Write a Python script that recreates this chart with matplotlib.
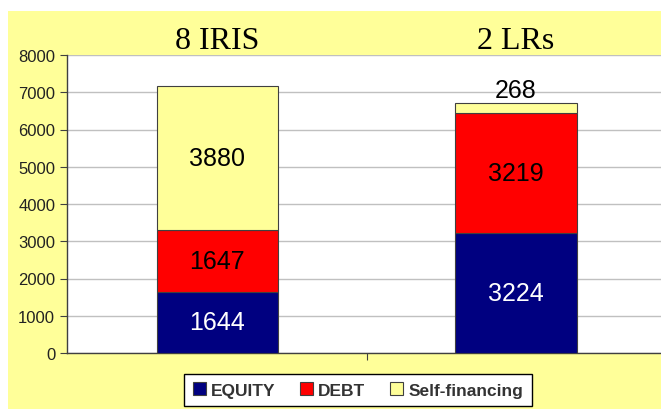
import numpy as np
import matplotlib
matplotlib.use("Agg")
import matplotlib.pyplot as plt
from matplotlib.patches import Rectangle

plt.rcParams["font.family"] = ["Liberation Sans", "DejaVu Sans"]

# ---------- Datos ----------
grupos = ["8 IRIS", "2 LRs"]
series = ["EQUITY", "DEBT", "Self-financing"]
equity = [1644, 3224]
debt = [1647, 3219]
autofin = [3880, 268]
colores = ["#000080", "#FF0000", "#FFFF99"]
color_texto = ["white", "black", "black"]

fig = plt.figure(figsize=(6.61, 4.10), dpi=100)
fig.patch.set_facecolor("white")
# fondo amarillo del área del gráfico
fig.patches.append(Rectangle((8 / 661, 0), 1 - 8 / 661, 1 - 12 / 410,
                             transform=fig.transFigure, facecolor="#FFFF99",
                             edgecolor="none", zorder=-5))

ax = fig.add_axes([67 / 661, 1 - 354 / 410, 1 - 67 / 661, 298 / 410])
ax.set_facecolor("white")

x = np.arange(len(grupos))
ancho = 0.405
base = np.zeros(len(grupos))
for nombre, valores, col, ctxt in zip(series, [equity, debt, autofin], colores, color_texto):
    vals = np.array(valores, dtype=float)
    ax.bar(x, vals, ancho, bottom=base, color=col, edgecolor="#404040",
           linewidth=0.8, label=nombre, zorder=3)
    for i, v in enumerate(vals):
        if nombre == "Self-financing" and v < 1000:
            # etiqueta encima de la barra si el segmento es muy fino
            ax.text(x[i], base[i] + v + 30, f"{int(v)}", ha="center", va="bottom",
                    fontsize=18, color="black", zorder=4)
        else:
            ax.text(x[i], base[i] + v / 2, f"{int(v)}", ha="center", va="center",
                    fontsize=18, color=ctxt, zorder=4)
    base += vals

ax.set_xlim(-0.502, 1.485)
ax.set_ylim(0, 8000)
ax.set_yticks(np.arange(0, 8001, 1000))
ax.set_xticks([0.5])
ax.set_xticklabels([])
ax.tick_params(axis="y", labelsize=12, labelcolor="#222222", length=5,
               color="#404040", direction="out")
ax.tick_params(axis="x", length=5, color="#404040", direction="out")
ax.yaxis.grid(True, color="#C0C0C0", linewidth=1, zorder=0)
ax.set_axisbelow(True)
for s in ["top", "right"]:
    ax.spines[s].set_visible(False)
for s in ["left", "bottom"]:
    ax.spines[s].set_color("#404040")
    ax.spines[s].set_linewidth(1)

# títulos de cada grupo
for i, g in enumerate(grupos):
    ax.text(x[i], 1.047, g, transform=ax.get_xaxis_transform(), ha="center",
            va="center", fontsize=23, family="Liberation Serif", color="black",
            clip_on=False)

leg = fig.legend(loc="center", bbox_to_anchor=(358 / 661, 1 - 391 / 410),
                 ncol=3, frameon=True, fancybox=False, handlelength=0.75,
                 handleheight=0.75, handletextpad=0.3, columnspacing=1.4,
                 borderpad=0.5, prop={"size": 12.5, "weight": "bold"})
leg.get_frame().set_edgecolor("black")
leg.get_frame().set_linewidth(1)
leg.get_frame().set_facecolor("white")
leg.get_frame().set_alpha(1)
for t in leg.get_texts():
    t.set_color("#333333")

fig.savefig("out.png", dpi=100)
